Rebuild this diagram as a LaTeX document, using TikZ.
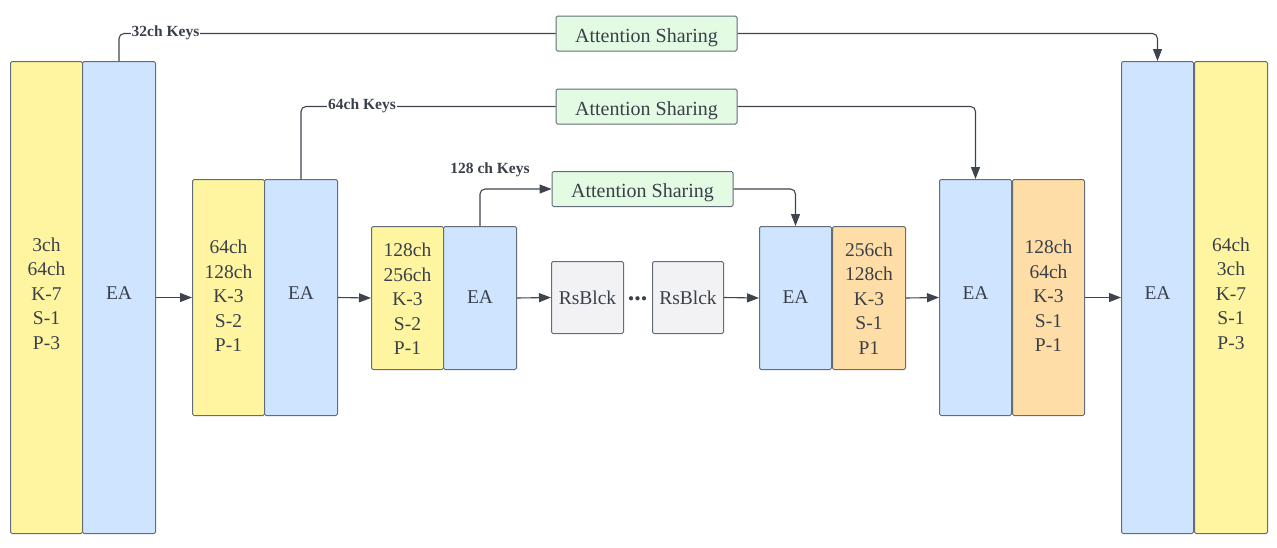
\documentclass[tikz,border=0pt]{standalone}
\usepackage{fontspec}
\setmainfont{Liberation Serif}
\usetikzlibrary{arrows.meta}
\definecolor{yelc}{RGB}{255,245,160}
\definecolor{bluc}{RGB}{207,228,255}
\definecolor{orac}{RGB}{255,221,166}
\definecolor{grnc}{RGB}{227,250,227}
\definecolor{gryc}{RGB}{242,242,244}
\definecolor{edgec}{RGB}{100,108,120}
\definecolor{linec}{RGB}{62,68,78}
\definecolor{txtc}{RGB}{58,64,74}
\begin{document}
\begin{tikzpicture}[x=1pt,y=-1pt,
  blk/.style={draw=edgec, line width=1pt, rounded corners=1.5pt, inner sep=0pt,
    align=center, text=txtc, font=\fontsize{19.5}{24.5}\selectfont, anchor=north west},
  yblk/.style={blk, fill=yelc},
  bblk/.style={blk, fill=bluc},
  oblk/.style={blk, fill=orac},
  gblk/.style={blk, fill=gryc},
  txt/.style={align=center, text=txtc, inner sep=0pt, font=\fontsize{19.5}{24.5}\selectfont},
  astxt/.style={txt, font=\fontsize{20}{24}\selectfont},
  asbox/.style={blk, fill=grnc, anchor=center, minimum width=181pt, minimum height=35pt},
  conn/.style={draw=linec, line width=1.1pt, rounded corners=5pt},
  arr/.style={conn, -{Triangle[length=12pt,width=9pt]}},
  keylbl/.style={font=\fontsize{15.5}{17}\selectfont\bfseries, text=txtc, fill=white, inner sep=1pt}
]
\useasboundingbox (0,0) rectangle (1277,547);

% left encoder
\node[yblk, minimum width=72pt, minimum height=472pt] (y1) at (10,61) {};
\node[bblk, minimum width=73pt, minimum height=472pt] (e1) at (82,61) {};
\node[yblk, minimum width=72pt, minimum height=236pt] (y2) at (192,179) {};
\node[bblk, minimum width=73pt, minimum height=236pt] (e2) at (264,179) {};
\node[yblk, minimum width=72pt, minimum height=143pt] (y3) at (371,226) {};
\node[bblk, minimum width=73pt, minimum height=143pt] (e3) at (443,226) {};
\node[txt] (ty1) at ([yshift=4pt]y1.center) {3ch\\64ch\\K-7\\S-1\\P-3};
\node[txt] (te1) at ([yshift=4pt]e1.center) {EA};
\node[txt] (ty2) at ([yshift=1.5pt]y2.center) {64ch\\128ch\\K-3\\S-2\\P-1};
\node[txt] (te2) at ([yshift=4pt]e2.center) {EA};
\node[txt] (ty3) at ([yshift=-1pt]y3.center) {128ch\\256ch\\K-3\\S-2\\P-1};
\node[txt] (te3) at ([yshift=1pt]e3.center) {EA};

% residual blocks
\node[gblk, minimum width=72pt, minimum height=72pt] (r1) at (551,261) {RsBlck};
\node[text=txtc, font=\fontsize{26}{28}\selectfont\bfseries, inner sep=0pt] (dots) at (637.5,299) {...};
\node[gblk, minimum width=71pt, minimum height=72pt] (r2) at (652,261) {RsBlck};

% decoder
\node[bblk, minimum width=72pt, minimum height=143pt] (e4) at (759,226) {};
\node[oblk, minimum width=73pt, minimum height=143pt] (o4) at (832,226) {};
\node[bblk, minimum width=72pt, minimum height=236pt] (e5) at (939,179) {};
\node[oblk, minimum width=72pt, minimum height=236pt] (o5) at (1012,179) {};
\node[bblk, minimum width=72pt, minimum height=472pt] (e6) at (1121,61) {};
\node[yblk, minimum width=73pt, minimum height=472pt] (y6) at (1194,61) {};
\node[txt] (te4) at ([yshift=1pt]e4.center) {EA};
\node[txt] (to4) at ([yshift=-0.5pt]o4.center) {256ch\\128ch\\K-3\\S-1\\P1};
\node[txt] (te5) at ([yshift=4pt]e5.center) {EA};
\node[txt] (to5) at ([yshift=1.5pt]o5.center) {128ch\\64ch\\K-3\\S-1\\P-1};
\node[txt] (te6) at ([yshift=4pt]e6.center) {EA};
\node[txt] (ty6) at ([yshift=4pt]y6.center) {64ch\\3ch\\K-7\\S-1\\P-3};

% attention sharing
\node[asbox] (as1) at (646.5,33.5) {};
\node[asbox] (as2) at (646.5,106.5) {};
\node[asbox] (as3) at (642.5,189) {};
\node[astxt] (ta1) at ([yshift=-4pt]as1.center) {Attention Sharing};
\node[astxt] (ta2) at ([yshift=-4pt]as2.center) {Attention Sharing};
\node[astxt] (ta3) at ([yshift=-4pt]as3.center) {Attention Sharing};

% main flow
\draw[arr] (e1.east) -- (y2.west);
\draw[arr] (e2.east) -- (y3.west);
\draw[arr] (e3.east) -- (r1.west);
\draw[arr] (r2.east) -- (e4.west);
\draw[arr] (o4.east) -- (e5.west);
\draw[arr] (o5.east) -- (e6.west);

% key connections
\draw[conn] (e1.north) |- (as1.west);
\node[keylbl] (k1) at (165.5,33) {32ch Keys};
\draw[arr] (as1.east) -| (e6.north);

\draw[conn] (e2.north) |- (as2.west);
\node[keylbl] (k2) at (362,106) {64ch Keys};
\draw[arr] (as2.east) -| (e5.north);

\draw[arr] (e3.north) |- (as3.west);
\node[keylbl] (k3) at (490,170) {128 ch Keys};
\draw[arr] (as3.east) -| (e4.north);
\end{tikzpicture}
\end{document}
